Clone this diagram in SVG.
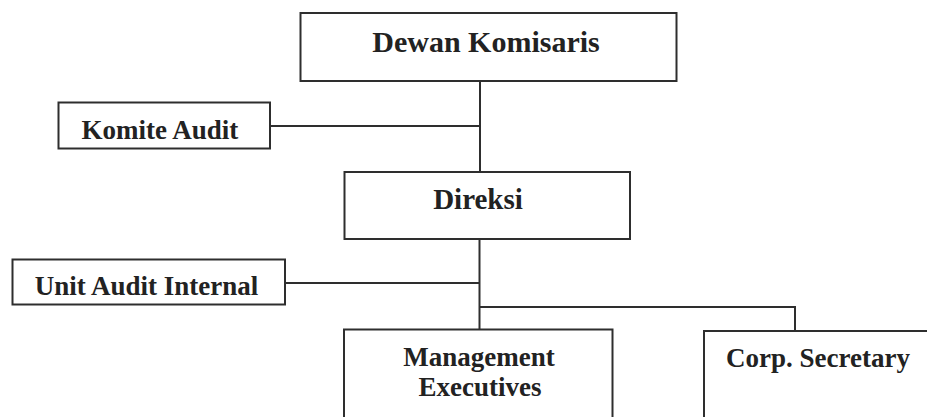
<svg xmlns="http://www.w3.org/2000/svg" width="927" height="417" viewBox="0 0 927 417">
<style>
.box{fill:#ffffff;stroke:#2e2e2e;stroke-width:2}
.ln{fill:none;stroke:#2e2e2e;stroke-width:2}
text{font-family:"Liberation Serif","Times New Roman",serif;font-weight:bold;fill:#222222;text-anchor:middle}
.l{font-size:30px}
.m{font-size:29px}
.s{font-size:27px}
</style>
<rect width="927" height="417" fill="#ffffff"/>
<g id="connectors">
<path class="ln" d="M480 81 V172"/>
<path class="ln" d="M270 126 H480"/>
<path class="ln" d="M479.5 239 V329"/>
<path class="ln" d="M285 283 H479.5"/>
<path class="ln" d="M479.5 307 H795 V331"/>
</g>
<g id="dewan-komisaris">
<rect class="box" x="300.5" y="13" width="376" height="68"/>
<text class="l" x="486" y="52">Dewan Komisaris</text>
</g>
<g id="komite-audit">
<rect class="box" x="58.5" y="102.5" width="211.5" height="46"/>
<text class="s" x="160" y="139">Komite Audit</text>
</g>
<g id="direksi">
<rect class="box" x="344.5" y="172" width="285.5" height="67"/>
<text class="m" x="478" y="208.5">Direksi</text>
</g>
<g id="unit-audit-internal">
<rect class="box" x="12.5" y="259.5" width="272.5" height="45"/>
<text class="s" x="146.5" y="295">Unit Audit Internal</text>
</g>
<g id="management-executives">
<rect class="box" x="344" y="329.5" width="268.5" height="100"/>
<text class="s" x="479" y="366">Management</text>
<text class="s" x="480" y="396">Executives</text>
</g>
<g id="corp-secretary">
<rect class="box" x="704" y="331" width="228" height="100"/>
<text class="s" x="818" y="366.5">Corp. Secretary</text>
</g>
</svg>
